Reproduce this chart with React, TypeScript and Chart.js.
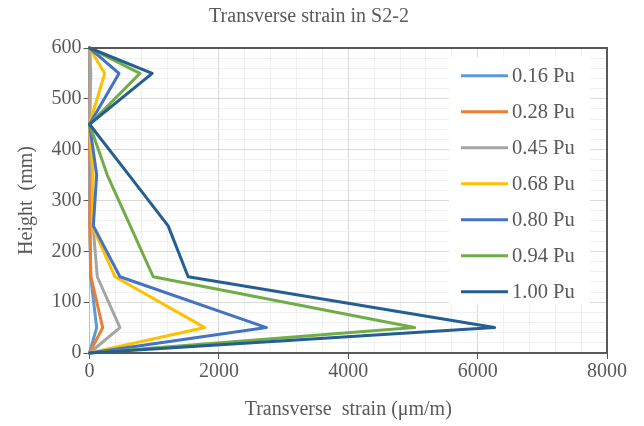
import React, { useEffect, useRef } from "react";
import { Chart, registerables } from "chart.js";

Chart.register(...registerables);

const heights = [0, 50, 150, 250, 350, 450, 550, 600];
const s016 = [0, 111, 18, 5, 5, 0, 5, 0];
const s028 = [0, 204, 22, 5, 10, 0, 10, 0];
const s045 = [0, 471, 120, 55, 35, 0, 20, 0];
const s068 = [0, 1783, 394, 40, 55, 0, 235, 0];
const s080 = [0, 2736, 471, 59, 111, 0, 456, 0];
const s094 = [0, 5026, 985, 630, 275, 0, 780, 0];
const s100 = [0, 6261, 1525, 1216, 611, 0, 970, 0];

const seriesNames = ["0.16 Pu", "0.28 Pu", "0.45 Pu", "0.68 Pu", "0.80 Pu", "0.94 Pu", "1.00 Pu"];
const seriesValues = [s016, s028, s045, s068, s080, s094, s100];
const seriesColors = ["#5B9BD5", "#ED7D31", "#A5A5A5", "#FFC000", "#4472C4", "#70AD47", "#255E91"];

const xTickLabels = [0, 2000, 4000, 6000, 8000];
const yTickLabels = [0, 100, 200, 300, 400, 500, 600];

const titleText = "Transverse strain in S2-2";
const xTitle = "Transverse  strain (\u03bcm/m)";
const yTitle = "Height  (mm)";

const FONT = "'Liberation Serif', 'Times New Roman', serif";
const TEXT = "#595959";

export default function App() {
  const ref = useRef<HTMLCanvasElement | null>(null);
  useEffect(() => {
    document.body.style.margin = "0";
    const canvas = ref.current;
    if (!canvas) return;

    const decor = {
      id: "decor",
      afterDatasetsDraw(chart: any) {
        const ctx = chart.ctx;
        const a = chart.chartArea;
        ctx.save();
        ctx.strokeStyle = "#595959";
        ctx.lineWidth = 2;
        ctx.beginPath();
        ctx.moveTo(a.left, a.top);
        ctx.lineTo(a.right, a.top);
        ctx.lineTo(a.right, a.bottom);
        ctx.stroke();
        // legend
        ctx.fillStyle = "#ffffff";
        ctx.fillRect(449, 57, 141, 248);
        ctx.beginPath();
        ctx.rect(449, 57, 126, 248);
        ctx.clip();
        chart.data.datasets.forEach((ds: any, i: number) => {
          const y = 75.7 + i * 36;
          ctx.strokeStyle = ds.borderColor;
          ctx.lineWidth = 3;
          ctx.beginPath();
          ctx.moveTo(461, y);
          ctx.lineTo(508, y);
          ctx.stroke();
          ctx.fillStyle = TEXT;
          ctx.font = `20.5px ${FONT}`;
          ctx.textAlign = "left";
          ctx.textBaseline = "middle";
          ctx.fillText(ds.label, 512, y + 1);
        });
        ctx.restore();
        ctx.save();
        ctx.fillStyle = TEXT;
        ctx.font = `20px ${FONT}`;
        ctx.textAlign = "center";
        ctx.textBaseline = "middle";
        ctx.fillText(titleText, 309, 17);
        ctx.restore();
      },
    };

    const chart = new Chart(canvas, {
      type: "line",
      data: {
        datasets: seriesValues.map((vals, i) => ({
          label: seriesNames[i],
          data: vals.map((v, j) => ({ x: v, y: heights[j] })),
          borderColor: seriesColors[i],
          backgroundColor: seriesColors[i],
          borderWidth: 3,
          borderJoinStyle: "round" as const,
          borderCapStyle: "round" as const,
          pointRadius: 0,
          tension: 0,
          fill: false,
          clip: false as any,
          order: seriesValues.length - i,
        })),
      },
      options: {
        animation: false,
        responsive: false,
        layout: { padding: { left: 0, top: 48, right: 37, bottom: 0 } },
        plugins: {
          legend: { display: false },
          title: { display: false },
          tooltip: { enabled: false },
        },
        scales: {
          x: {
            type: "linear",
            min: 0,
            max: 8000,
            afterFit(scale: any) {
              scale.height = 73;
            },
            afterBuildTicks(scale: any) {
              const t = [];
              for (let v = 0; v <= 8000; v += 400) t.push({ value: v });
              scale.ticks = t;
            },
            ticks: {
              autoSkip: false,
              maxRotation: 0,
              padding: 1,
              color: TEXT,
              font: { family: FONT, size: 20 },
              callback: (v: any) => (xTickLabels.includes(Number(v)) ? String(v) : ""),
            },
            grid: {
              color: (c: any) => (c.tick && c.tick.value % 2000 === 0 ? "#d9d9d9" : "#f0f0f0"),
              tickColor: (c: any) => (c.tick && c.tick.value % 2000 === 0 ? "#595959" : "rgba(0,0,0,0)"),
              tickLength: 6,
              lineWidth: 1,
            },
            border: { color: "#595959", width: 2 },
            title: {
              display: true,
              text: xTitle,
              color: TEXT,
              font: { family: FONT, size: 20 },
              padding: { top: 0, bottom: 4 },
            },
          },
          y: {
            type: "linear",
            min: 0,
            max: 600,
            afterFit(scale: any) {
              scale.width = 89.5;
            },
            afterBuildTicks(scale: any) {
              const t = [];
              for (let v = 0; v <= 600; v += 20) t.push({ value: v });
              scale.ticks = t;
            },
            ticks: {
              autoSkip: false,
              padding: 2,
              color: TEXT,
              font: { family: FONT, size: 20 },
              callback: (v: any) => (yTickLabels.includes(Number(v)) ? String(v) : ""),
            },
            grid: {
              color: (c: any) => (c.tick && c.tick.value % 100 === 0 ? "#d9d9d9" : "#f0f0f0"),
              tickColor: (c: any) => (c.tick && c.tick.value % 100 === 0 ? "#595959" : "rgba(0,0,0,0)"),
              tickLength: 6,
              lineWidth: 1,
            },
            border: { color: "#bfbfbf", width: 1 },
            title: {
              display: true,
              text: yTitle,
              color: TEXT,
              font: { family: FONT, size: 20 },
              padding: { top: 15, bottom: 0 },
            },
          },
        },
      },
      plugins: [decor],
    });
    return () => chart.destroy();
  }, []);
  return <canvas ref={ref} width={644} height={426} style={{ display: "block", width: 644, height: 426 }} />;
}
